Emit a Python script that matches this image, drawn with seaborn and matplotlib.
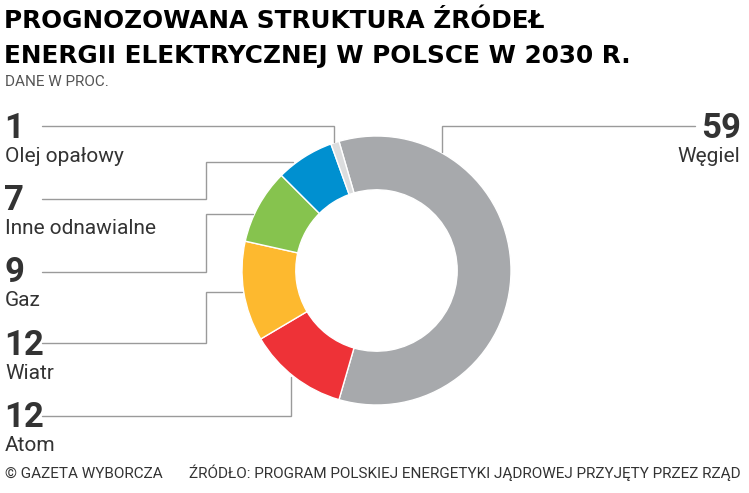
import matplotlib
matplotlib.use('Agg')
import matplotlib.pyplot as plt
import seaborn as sns

# ---- data ----
categories = ['Węgiel', 'Atom', 'Wiatr', 'Gaz', 'Inne odnawialne', 'Olej opałowy']
values = [59, 12, 12, 9, 7, 1]
colors = ['#A7A9AC', '#EE3237', '#FDB92F', '#86C34E', '#0090D0', '#DCDDDE']

title_lines = ['PROGNOZOWANA STRUKTURA ŹRÓDEŁ', 'ENERGII ELEKTRYCZNEJ W POLSCE W 2030 R.']
subtitle = 'DANE W PROC.'
footer_left = '© GAZETA WYBORCZA'
footer_right = 'ŹRÓDŁO: PROGRAM POLSKIEJ ENERGETYKI JĄDROWEJ PRZYJĘTY PRZEZ RZĄD'

sns.set_theme(style='white')
plt.rcParams['font.family'] = ['Roboto', 'DejaVu Sans']

W, H = 749, 493
fig = plt.figure(figsize=(W / 100, H / 100), dpi=100)
ax = fig.add_axes([0, 0, 1, 1])

cx, cy, R = 376.5, 270.5, 134.5
start = values[0] / sum(values) * 180
ax.pie(values, colors=colors, startangle=start, counterclock=False,
       center=(cx, H - cy), radius=R,
       wedgeprops=dict(width=R * 0.4, edgecolor='white', linewidth=1),
       frame=True)
ax.set_xlim(0, W)
ax.set_ylim(0, H)
ax.set_aspect('equal')
ax.axis('off')


def Y(y):
    return H - y


FAM = ['Roboto', 'DejaVu Sans']
line_kw = dict(color='#9a9a9a', lw=1.0, solid_joinstyle='miter')
num_kw = dict(fontsize=25, fontweight='bold', color='#333333', family=FAM)
lab_kw = dict(fontsize=15, color='#333333', family=FAM)

# left labels (top to bottom): Olej, Inne, Gaz, Wiatr, Atom
left_idx = [5, 4, 3, 2, 1]
num_base = [138, 210, 282, 355, 427]
leaders = [
    [(42, 126), (334, 126), (334, 142)],
    [(42, 199), (206, 199), (206, 162), (293, 162)],
    [(42, 272), (206, 272), (206, 214), (253, 214)],
    [(42, 343), (206, 343), (206, 292), (242, 292)],
    [(42, 416), (291, 416), (291, 377)],
]
for i, yb, path in zip(left_idx, num_base, leaders):
    ax.text(4, Y(yb), f'{values[i]}', ha='left', va='baseline', **num_kw)
    ax.text(5, Y(yb + 24), categories[i], ha='left', va='baseline', **lab_kw)
    xs = [p[0] for p in path]
    ys = [Y(p[1]) for p in path]
    ax.plot(xs, ys, **line_kw)

# right label: Węgiel
ax.text(741, Y(138), f'{values[0]}', ha='right', va='baseline', **num_kw)
ax.text(740, Y(162), categories[0], ha='right', va='baseline', **lab_kw)
path = [(695, 126), (442, 126), (442, 152)]
ax.plot([p[0] for p in path], [Y(p[1]) for p in path], **line_kw)

# titles
tkw = dict(fontsize=17.8, fontweight='bold', color='black',
           family=['DejaVu Sans'])
ax.text(4, Y(27.5), title_lines[0], ha='left', va='baseline', **tkw)
ax.text(4, Y(63.5), title_lines[1], ha='left', va='baseline', **tkw)
ax.text(5, Y(86), subtitle, ha='left', va='baseline', fontsize=11,
        color='#555555', family=FAM)

fkw = dict(fontsize=11, color='#333333', family=FAM)
ax.text(5, Y(478), footer_left, ha='left', va='baseline', **fkw)
ax.text(741, Y(478), footer_right, ha='right', va='baseline', **fkw)

fig.savefig('out.png', dpi=100)
